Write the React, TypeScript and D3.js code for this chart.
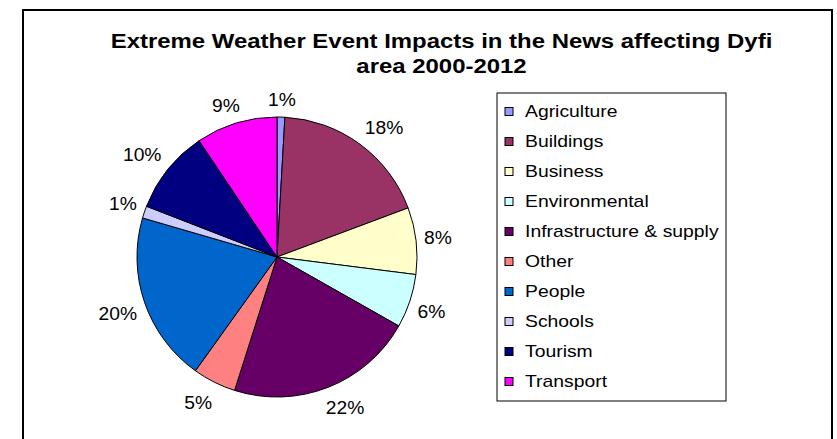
import React from "react";
import * as d3 from "d3";

const categories = [
  "Agriculture",
  "Buildings",
  "Business",
  "Environmental",
  "Infrastructure & supply",
  "Other",
  "People",
  "Schools",
  "Tourism",
  "Transport",
];
const values = [0.9, 18.4, 7.7, 6.2, 21.7, 5.0, 19.6, 1.4, 9.7, 9.4];
const colors = [
  "#9999FF",
  "#993366",
  "#FFFFCC",
  "#CCFFFF",
  "#660066",
  "#FF8080",
  "#0066CC",
  "#CCCCFF",
  "#000080",
  "#FF00FF",
];
const titleLines = [
  "Extreme Weather Event Impacts in the News affecting Dyfi",
  "area 2000-2012",
];

const W = 837;
const H = 439;
const FONT = "'Liberation Sans', Arial, Helvetica, sans-serif";

export default function App() {
  const cx = 277;
  const cy = 257;
  const R = 140;
  const total = d3.sum(values);
  const pie = d3.pie<number>().sort(null).value((d) => d);
  const arcs = pie(values);
  const arc = d3.arc<d3.PieArcDatum<number>>().innerRadius(0).outerRadius(R);

  const labelSize = 18;
  const labelScale = 1.07;
  const clamp = (v: number) => Math.max(-1, Math.min(1, v));
  const charW = (ch: string) => (ch === "%" ? 0.889 : 0.556);

  const legendX = 497;
  const legendY = 93;
  const legendW = 229;
  const legendH = 308;
  const rowY = d3
    .scalePoint<number>()
    .domain(d3.range(categories.length))
    .range([111.5, 111.5 + 30 * (categories.length - 1)]);

  return (
    <svg
      width={W}
      height={H}
      style={{ position: "absolute", left: 0, top: 0, background: "#fff" }}
      fontFamily={FONT}
    >
      <rect x={0} y={0} width={W} height={H} fill="#fff" />
      <rect x={23} y={10} width={809} height={440} fill="none" stroke="#000" strokeWidth={2} />

      {titleLines.map((t, i) => (
        <text
          key={i}
          transform={`translate(441.5, ${47.5 + i * 25}) scale(1.14,1)`}
          textAnchor="middle"
          fontWeight="bold"
          fontSize={21}
          fill="#000"
        >
          {t}
        </text>
      ))}

      <g>
        {arcs.map((a, i) => (
          <path
            key={i}
            d={arc(a) || ""}
            transform={`translate(${cx},${cy})`}
            fill={colors[i]}
            stroke="#000"
            strokeWidth={1}
            strokeLinejoin="round"
          />
        ))}
      </g>

      {arcs.map((a, i) => {
        const label = `${Math.round((values[i] / total) * 100)}%`;
        const mid = (a.startAngle + a.endAngle) / 2;
        const s = Math.sin(mid);
        const c = Math.cos(mid);
        const px = cx + (R + 8) * s;
        const py = cy - (R + 8) * c;
        const w =
          label.split("").reduce((acc, ch) => acc + charW(ch), 0) * labelSize * labelScale;
        const h = c < 0 ? 26 : 20;
        const lx = px + (w / 2) * clamp(2 * s);
        const ly = py - (h / 2) * clamp(2 * c);
        const base = ly + 0.716 * labelSize * 0.5;
        return (
          <text
            key={i}
            transform={`translate(${lx},${base}) scale(${labelScale},1)`}
            textAnchor="middle"
            fontSize={labelSize}
            fill="#000"
          >
            {label}
          </text>
        );
      })}

      <rect
        x={legendX}
        y={legendY}
        width={legendW}
        height={legendH}
        fill="#fff"
        stroke="#000"
        strokeWidth={1}
      />
      {categories.map((cat, i) => {
        const y = rowY(i) as number;
        return (
          <g key={cat}>
            <rect
              x={505}
              y={y - 4}
              width={8}
              height={8}
              fill={colors[i]}
              stroke="#000"
              strokeWidth={1}
            />
            <text
              transform={`translate(525, ${y + 5.7}) scale(1.21,1)`}
              fontSize={16}
              fill="#000"
            >
              {cat}
            </text>
          </g>
        );
      })}
    </svg>
  );
}
